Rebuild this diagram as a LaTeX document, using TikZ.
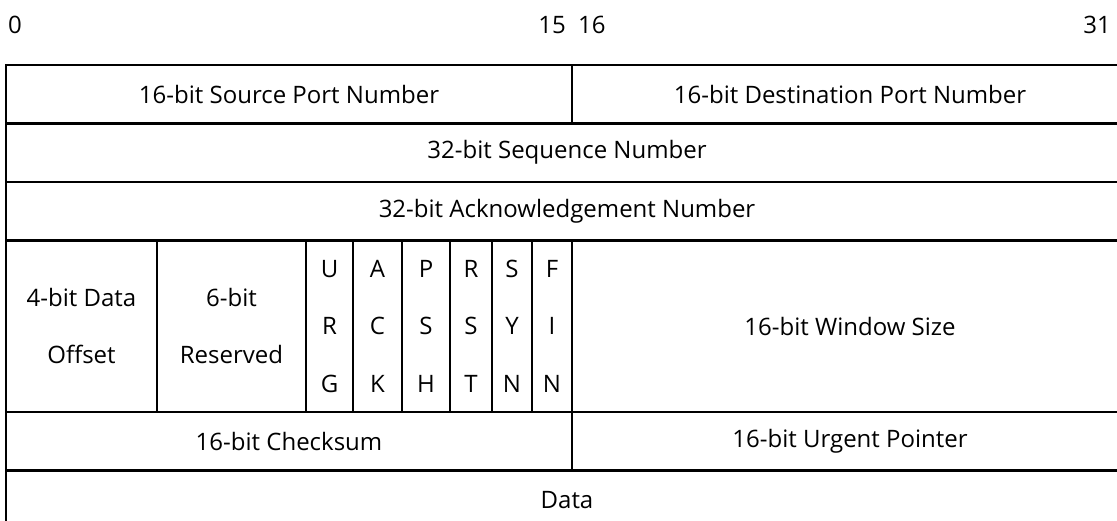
\documentclass[tikz,border=0pt]{standalone}
\usepackage{fontspec}
\setmainfont{Open Sans}
\usetikzlibrary{positioning}

\begin{document}
\begin{tikzpicture}[
  x=1pt,y=-1pt,
  cell/.style={draw,line width=2.5pt,rectangle,inner sep=0pt,outer sep=0pt,anchor=north west,
    minimum height=58.5pt,align=center,font=\fontsize{24}{57.5}\selectfont},
  flag/.style={cell,minimum height=171.5pt,inner ysep=-12pt},
  bitnum/.style={inner sep=0pt,font=\fontsize{24}{28}\selectfont}
]
\useasboundingbox (0,0) rectangle (1117,521);

% bit positions
\node[bitnum,anchor=west] (b0) at (8,25) {0};
\node[bitnum,anchor=east] (b15) at (566,25) {15};
\node[bitnum,anchor=west] (b16) at (578,25) {16};
\node[bitnum,anchor=east] (b31) at (1111,25) {31};

% ports
\node[cell,minimum width=566pt] (src) at (6,65) {16-bit Source Port Number};
\node[cell,minimum width=556pt] (dst) at (src.north east) {16-bit Destination Port Number};
% sequence / ack
\node[cell,minimum width=1122pt] (seq) at (src.south west) {32-bit Sequence Number};
\node[cell,minimum width=1122pt] (ack) at (seq.south west) {32-bit Acknowledgement Number};

% offset, reserved and flags
\node[flag,minimum width=151pt] (off) at (ack.south west) {4-bit Data\\Offset};
\node[flag,minimum width=149pt] (res) at (off.north east) {6-bit\\Reserved};
\node[flag,minimum width=47pt] (urg) at (res.north east) {U\\R\\G};
\node[flag,minimum width=49pt] (ackf) at (urg.north east) {A\\C\\K};
\node[flag,minimum width=48pt] (psh) at (ackf.north east) {P\\S\\H};
\node[flag,minimum width=42pt] (rst) at (psh.north east) {R\\S\\T};
\node[flag,minimum width=40pt] (syn) at (rst.north east) {S\\Y\\N};
\node[flag,minimum width=40pt] (fin) at (syn.north east) {F\\I\\N};
\node[flag,minimum width=556pt] (win) at (fin.north east) {16-bit Window Size};

% checksum / urgent
\node[cell,minimum width=566pt] (chk) at (off.south west) {16-bit Checksum};
\node[cell,minimum width=556pt] (urp) at (chk.north east) {16-bit Urgent Pointer};
% payload
\node[cell,minimum width=1122pt] (data) at (chk.south west) {Data};
\end{tikzpicture}
\end{document}
